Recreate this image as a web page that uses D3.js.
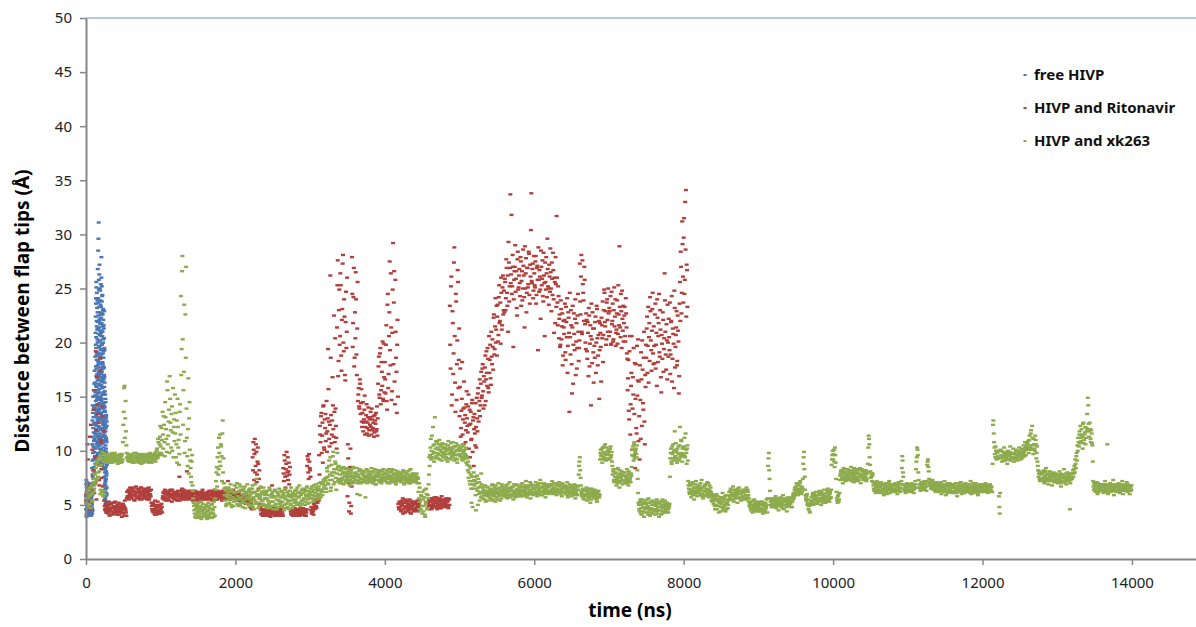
<!DOCTYPE html>
<html>
<head>
<meta charset="utf-8">
<script src="https://cdn.jsdelivr.net/npm/d3@7"></script>
<style>
  body { margin: 0; background: #fff; }
  svg { display: block; font-family: "Noto Sans", "Open Sans", sans-serif; }
</style>
</head>
<body>
<svg width="1196" height="627"></svg>
<script>
// flap tip distance (Å) vs simulation time (ns), three HIV protease runs
const seriesNames = ["free HIVP", "HIVP and Ritonavir", "HIVP and xk263"];
const xTicks = [0, 2000, 4000, 6000, 8000, 10000, 12000, 14000];
const yTicks = [0, 5, 10, 15, 20, 25, 30, 35, 40, 45, 50];

// free HIVP: one value per 1 ns from t = 0
const blueStep = 1;
const blueValues = [
  5.8,4.6,6.9,5.2,7.3,4.1,6.0,5.5,3.9,6.6,5.0,7.1,4.4,5.7,6.3,4.8,5.4,6.8,4.2,5.9,
  5.1,6.4,4.7,5.6,4.0,6.1,5.3,4.5,5.8,4.9,6.2,4.3,5.5,4.8,6.0,5.2,4.6,5.7,4.4,5.0,
  6.5,4.9,5.3,7.0,4.5,5.9,6.2,4.1,5.6,6.8,5.0,4.4,5.8,6.1,4.7,5.4,6.6,4.2,5.1,5.7,
  4.8,5.5,4.3,5.9,5.0,4.6,6.0,4.2,5.3,4.9,5.6,4.0,5.2,4.7,5.8,4.4,5.1,6.3,4.5,5.0,
  4.7,5.3,8.4,4.2,10.6,5.9,12.8,9.1,4.5,14.2,7.6,11.3,6.3,13.5,9.8,15.0,8.2,12.1,10.4,7.0,
  9.2,13.1,6.8,11.7,15.6,8.5,10.9,14.0,7.4,12.6,9.9,16.2,11.1,8.0,13.8,10.3,17.4,12.4,9.5,15.1,
  16.3,9.5,13.9,11.6,18.7,8.8,15.4,20.9,12.5,10.2,22.4,14.6,9.3,17.8,24.1,11.9,19.5,13.2,25.6,16.9,
  12.0,18.4,10.6,21.5,15.9,8.7,19.0,13.6,23.2,11.3,17.1,14.9,20.3,9.6,16.5,22.8,12.8,18.9,15.3,10.8,
  10.7,21.3,14.1,28.5,18.2,12.3,23.7,9.0,16.6,20.1,31.1,13.7,24.9,17.3,11.4,22.0,19.0,15.7,26.3,12.9,
  19.7,14.4,22.2,10.5,17.7,25.0,13.1,20.7,16.1,8.9,21.1,15.0,18.5,12.1,23.9,16.8,11.2,19.4,14.7,22.6,
  18.6,10.1,23.3,16.0,20.6,13.4,27.9,17.5,9.7,21.8,14.8,25.2,19.8,11.0,16.4,22.7,8.6,18.1,15.2,24.4,
  15.8,21.0,12.6,18.0,9.4,23.0,16.7,13.9,20.0,11.5,17.6,14.2,22.1,10.0,19.2,15.4,12.7,21.6,8.3,17.0,
  13.0,20.4,9.9,17.0,22.9,11.7,16.8,14.0,19.3,6.9,12.2,5.4,15.5,8.0,10.9,6.2,13.6,4.9,9.2,5.8,
  11.8,7.3,14.5,5.1,9.0,12.9,6.5,10.2,4.6,8.1,13.3,5.9,7.7,11.0,4.3,9.6,6.0,12.3,5.2,8.8
];
// free HIVP, in-between frames: one value per 1 ns from t = 130.5
const blueStart2 = 130.5;
const blueValues2 = [
  14.2,19.8,11.5,23.6,16.0,9.2,20.5,13.4,25.1,17.6,10.9,22.0,15.1,18.8,12.3,24.6,8.9,19.1,14.7,21.2,
  16.8,11.8,23.9,13.0,20.0,9.8,17.9,26.8,12.6,21.9,15.6,10.4,24.1,18.4,13.8,22.5,29.6,16.2,11.1,20.8,
  14.9,25.8,18.0,12.2,21.4,9.5,16.9,23.3,13.9,19.6,27.2,15.4,11.6,22.8,17.4,10.2,20.2,14.3,24.8,18.7,
  12.9,21.7,16.5,9.9,23.5,15.0,19.3,11.9,25.4,17.1,13.5,20.9,10.6,22.3,16.1,26.0,12.1,18.9,14.6,21.1,
  9.1,17.3,23.8,13.2,19.9,11.3,24.3,15.8,20.6,12.8,18.2,8.8,22.6,16.4,10.7,19.0,14.0,21.5,17.8,12.4,
  20.3,15.2,23.1,10.3,18.6,13.6,16.6,9.7,21.3,14.4,11.0,17.7,8.4,15.9,12.0,19.5,7.6,14.1,10.0,16.3,
  9.4,13.7,6.4,11.4,8.3,15.2,5.6,12.5,7.1,10.5,14.8,6.8,9.7,4.5,12.1,8.5,5.9,11.2,7.4,13.1,
  6.1,9.9,4.8,10.8,7.9,5.3,12.7,6.6,8.7,5.0
];

// HIVP and Ritonavir: one value per 10 ns from t = 0 (null = no sample)
const redStep = 10;
const redValues = [
  5.4,6.2,10.6,4.8,5.9,11.3,5.2,6.5,4.6,7.8,13.8,6.1,9.4,19.2,5.5,14.3,8.7,12.6,6.8,17.4,
  10.8,7.5,13.2,9.1,6.3,4.9,4.5,5.1,4.3,4.8,4.2,5.0,4.6,4.4,5.2,4.1,4.7,4.9,4.3,5.3,
  4.6,4.1,5.0,4.4,4.8,4.3,5.1,4.5,3.9,4.7,4.2,4.9,5.4,4.5,4.0,6.2,5.7,6.4,5.9,6.6,
  6.1,5.6,6.5,5.9,6.3,5.4,6.0,6.7,5.7,6.2,5.8,6.4,5.5,6.1,6.6,5.9,6.3,5.6,6.0,6.5,
  5.8,6.3,5.5,6.1,6.6,5.7,6.0,6.4,4.9,4.4,5.2,4.6,4.1,5.0,4.7,4.3,5.3,4.5,4.8,4.2,
  4.6,5.1,4.3,5.8,6.2,5.6,6.0,5.4,6.3,5.9,5.5,6.1,5.7,6.4,5.8,5.3,6.0,5.6,6.2,5.9,
  5.7,6.1,5.4,6.3,5.9,7.6,5.6,6.0,5.8,6.2,5.5,6.4,5.7,5.9,6.1,8.1,5.6,6.0,5.8,6.3,
  5.9,5.6,6.2,5.4,6.0,5.7,6.3,5.5,6.1,5.8,5.6,6.2,5.9,5.3,6.0,5.7,6.4,5.8,5.5,6.1,
  5.8,6.1,5.5,6.0,5.7,6.3,5.6,5.9,6.2,5.4,6.0,5.8,6.4,5.7,5.5,6.1,5.9,5.6,6.2,5.8,
  5.7,6.0,5.4,6.2,5.8,5.5,6.1,5.9,6.3,5.6,7.2,5.8,6.0,5.5,6.2,5.7,5.9,6.4,5.6,6.0,
  5.8,5.5,6.1,5.7,5.4,6.0,5.6,5.9,5.3,5.8,5.5,6.0,5.2,5.7,5.4,5.9,5.1,5.6,5.0,5.3,
  4.8,5.2,4.6,9.4,10.8,7.3,11.1,8.6,9.9,7.8,10.3,6.5,8.2,5.1,4.5,4.1,4.6,4.3,4.0,4.4,
  4.2,4.6,4.0,4.4,4.7,4.1,4.5,3.9,4.3,6.8,4.6,4.2,4.4,4.0,4.7,4.3,4.1,4.5,4.2,4.6,
  4.3,4.0,4.5,4.2,8.4,7.2,9.1,6.6,8.8,7.7,9.4,8.1,6.9,8.5,4.4,4.1,4.6,4.2,4.5,4.0,
  4.4,4.1,4.6,4.2,4.0,4.5,4.3,4.7,4.1,4.4,4.2,4.6,6.4,4.0,4.5,4.3,8.6,9.2,7.4,9.0,
  8.2,4.5,4.2,4.8,4.4,5.1,4.6,5.5,4.9,5.8,5.2,6.4,9.6,12.3,10.8,13.5,11.4,8.9,14.2,10.1,
  12.1,10.9,14.6,11.8,19.4,12.7,10.4,26.2,13.3,11.5,16.8,12.0,22.5,10.8,13.9,11.2,21.4,27.6,18.3,24.9,
  20.6,25.3,17.4,23.1,28.1,19.2,22.4,16.5,24.7,21.0,5.8,9.3,4.4,7.6,10.2,4.9,27.9,19.6,24.2,17.8,
  22.8,26.5,18.9,21.3,14.6,15.8,13.9,16.2,14.4,12.7,13.5,11.8,12.9,15.1,12.2,13.3,11.6,12.6,14.0,11.9,
  12.4,13.6,11.5,12.9,12.1,13.2,11.7,12.8,13.5,12.0,11.4,16.2,18.7,14.9,19.5,15.6,17.3,20.1,14.6,16.8,
  18.2,15.3,21.6,13.8,24.5,17.1,22.8,19.3,26.4,14.7,20.9,29.2,23.7,16.4,25.8,18.6,13.5,22.1,5.1,4.6,
  4.8,5.3,4.4,5.0,5.6,4.6,5.2,4.3,4.9,5.4,4.7,5.1,4.5,5.5,4.8,4.2,5.2,4.6,5.0,4.4,
  5.3,4.7,5.1,4.5,5.0,4.8,5.4,null,null,null,null,null,null,null,null,null,null,null,5.2,4.6,
  5.5,4.9,5.3,4.7,5.6,5.0,5.4,4.8,5.2,5.7,4.6,5.1,5.5,4.9,5.3,4.7,5.8,5.0,5.4,4.8,
  5.2,4.9,5.6,5.0,5.3,4.7,5.5,23.4,17.6,26.1,15.2,21.8,19.0,28.8,16.3,24.5,14.7,20.2,25.6,18.4,
  13.2,17.6,12.1,14.8,11.5,13.9,16.4,12.6,10.8,14.3,13.0,11.7,15.2,12.4,9.4,13.6,11.1,14.7,12.8,8.6,
  13.4,10.5,12.2,14.9,11.8,15.8,13.7,16.6,14.2,17.3,15.1,18.0,13.9,16.4,17.7,14.6,19.2,16.0,18.5,15.4,
  17.2,19.8,16.1,18.7,20.3,17.5,22.6,19.4,24.1,21.2,18.8,23.5,20.7,25.3,22.0,19.9,24.6,21.6,26.2,23.0,
  22.8,25.6,24.1,26.9,23.4,21.0,27.4,25.2,33.7,26.3,24.5,28.1,19.6,25.8,27.0,24.7,26.6,22.5,28.4,25.1,
  26.8,24.3,27.5,25.7,23.9,28.6,26.2,21.4,25.0,27.8,24.6,26.9,25.4,28.2,23.6,26.1,33.8,25.5,27.3,24.8,
  26.4,25.1,28.0,24.4,27.1,19.3,25.8,26.7,24.9,28.5,25.3,27.6,23.8,26.2,20.6,25.6,27.9,24.2,26.8,25.0,
  27.2,24.7,26.5,22.9,25.9,28.3,24.0,26.0,21.8,25.4,31.7,23.7,25.2,20.4,22.6,19.8,23.1,21.5,17.9,22.0,
  20.8,23.6,18.4,21.9,24.1,19.7,22.3,13.6,20.5,23.0,18.0,21.4,16.2,22.7,19.3,24.0,20.1,17.6,22.5,21.0,
  19.5,27.3,22.6,28.1,20.8,25.4,23.9,27.0,21.7,19.4,22.1,18.5,20.9,23.2,17.8,21.6,14.2,20.3,22.8,19.1,
  21.3,18.6,22.4,20.0,23.1,17.9,20.7,14.8,21.8,19.6,22.3,20.4,18.2,23.0,24.6,21.5,19.8,23.7,22.1,25.0,
  20.6,22.9,24.3,19.9,21.7,23.6,20.3,25.1,22.4,19.7,21.2,23.9,20.8,22.6,28.9,21.4,24.5,19.5,22.2,23.4,
  21.8,23.3,20.1,22.7,19.0,15.6,18.4,12.9,20.6,14.3,17.2,10.1,16.8,19.5,13.4,8.4,18.0,11.6,15.1,20.3,
  16.4,9.2,14.7,19.1,12.3,17.5,13.8,21.0,10.6,15.9,18.6,22.4,19.7,16.3,21.8,24.2,20.2,17.4,23.1,19.0,
  21.5,18.1,23.6,19.8,16.0,22.3,20.6,24.5,18.7,21.2,15.4,19.9,22.8,17.3,20.4,23.9,18.9,21.7,16.6,20.0,
  22.2,19.3,17.1,21.9,24.3,18.5,20.8,15.8,23.2,19.6,21.4,17.9,22.5,20.1,16.9,25.6,28.4,22.7,31.2,26.1,
  29.7,24.5,33.0,34.1,27.2,23.3
];
// HIVP and Ritonavir, in-between frames: one value per 10 ns from t = 5
const redStart2 = 5;
const redValues2 = [
  6.0,5.1,9.2,5.6,4.7,6.8,12.4,5.3,10.1,6.4,8.2,15.6,7.0,11.9,16.8,9.5,13.4,7.3,18.6,11.0,
  8.3,14.1,6.7,11.8,5.4,4.6,5.0,4.3,4.9,4.5,5.3,4.0,4.7,5.1,4.4,4.8,4.2,5.2,4.6,4.5,
  4.3,4.8,4.5,5.2,4.1,4.7,4.4,4.9,4.3,5.1,4.6,4.0,4.7,4.3,5.6,5.8,6.3,5.5,6.1,5.8,
  5.7,6.3,5.9,6.6,5.5,6.2,5.8,6.1,6.5,5.6,6.3,5.7,6.0,6.6,5.5,6.2,5.8,6.4,5.7,6.1,
  6.2,5.6,6.5,5.9,5.5,6.3,5.8,5.2,4.6,5.1,4.3,4.9,5.4,4.5,4.1,4.8,4.4,5.0,4.2,4.9,
  4.4,4.8,5.6,6.1,5.5,6.4,5.7,6.0,5.6,6.2,5.9,5.4,6.3,5.8,6.0,6.4,5.7,6.1,5.5,6.0,
  6.1,5.5,6.2,5.8,6.0,5.4,6.3,5.7,6.5,5.6,6.0,5.8,6.2,5.5,6.0,5.7,6.3,5.5,6.1,5.7,
  5.6,6.1,5.8,6.3,5.5,6.0,5.7,6.2,5.4,6.0,5.9,5.5,6.1,5.8,5.6,6.2,5.5,6.0,5.9,5.6,
  6.0,5.6,6.2,5.8,5.5,6.0,5.9,6.3,5.5,6.1,5.7,6.2,5.6,6.0,5.8,5.5,6.3,5.9,5.7,6.1,
  5.9,5.6,6.3,5.7,6.0,6.2,5.5,5.8,6.0,5.7,5.9,6.3,5.5,6.1,5.8,6.0,5.6,5.8,6.2,5.7,
  5.6,6.0,5.4,5.9,6.1,5.5,5.8,5.3,5.7,6.0,5.4,5.7,5.5,5.1,5.8,5.3,5.6,5.2,5.5,4.9,
  5.1,4.7,5.5,8.2,10.1,9.7,8.0,10.6,7.1,9.0,8.8,7.4,5.6,4.8,4.2,4.6,4.0,4.5,4.3,4.1,
  4.5,4.1,4.7,4.3,4.0,4.6,4.2,4.4,4.8,4.1,4.3,4.7,4.0,4.5,4.2,4.6,4.4,4.0,4.7,4.3,
  4.1,4.6,4.4,4.0,7.9,9.6,7.6,8.3,9.9,8.0,7.3,8.9,7.8,5.8,4.2,4.6,4.0,4.5,4.3,4.7,
  4.2,4.6,4.3,4.5,4.1,4.4,4.0,4.6,4.3,4.2,4.7,4.1,4.5,4.3,4.0,4.6,9.5,8.0,9.7,8.4,
  7.6,4.8,4.3,4.6,4.1,4.7,4.9,5.3,4.7,5.5,6.0,5.4,7.8,11.5,13.2,9.8,12.6,14.1,10.3,12.9,
  13.4,11.6,9.9,13.0,15.7,11.1,12.4,18.6,10.7,12.8,14.2,11.3,13.6,20.4,12.3,10.2,25.3,16.9,23.0,19.8,
  26.4,18.8,22.1,27.3,20.0,24.0,17.0,21.9,19.5,26.0,10.6,7.0,5.2,8.5,4.2,6.7,24.5,21.8,26.9,18.6,
  20.4,24.0,17.0,25.6,15.2,14.1,16.6,13.4,15.7,12.2,14.5,12.6,13.8,11.5,12.7,14.3,12.1,13.1,11.4,12.9,
  13.1,12.2,13.9,11.9,12.6,11.3,13.3,12.5,11.8,14.1,13.0,17.8,15.2,19.0,14.3,18.2,16.0,14.8,19.9,15.4,
  16.6,19.8,14.6,23.5,15.8,20.6,27.5,17.9,21.4,15.5,24.9,18.0,26.6,14.3,21.0,17.3,19.8,15.0,4.8,5.3,
  5.1,4.5,4.9,5.4,4.2,5.2,4.7,5.5,4.4,4.9,5.3,4.6,5.0,4.3,5.4,4.7,4.9,5.3,4.5,5.1,
  4.6,5.2,4.8,5.4,4.4,5.1,4.9,null,null,null,null,null,null,null,null,null,null,null,4.9,5.4,
  5.0,5.6,4.6,5.4,5.1,4.8,5.7,5.2,4.9,5.5,5.3,4.8,5.0,5.6,4.7,5.4,5.1,5.5,4.9,5.3,
  5.5,5.1,4.8,5.4,4.9,5.6,5.0,19.8,25.2,14.2,22.9,17.1,27.4,20.6,13.6,23.8,18.0,26.7,15.8,21.3,
  15.9,11.3,13.7,18.2,12.9,10.6,14.0,13.3,11.9,15.5,12.3,14.1,10.2,13.8,12.5,11.0,14.4,9.9,13.1,12.0,
  11.6,14.4,10.3,13.0,15.3,12.7,14.6,13.2,16.2,14.9,17.6,15.5,16.9,14.2,18.8,16.6,17.2,19.5,15.8,20.6,
  18.4,16.7,21.0,18.0,19.6,22.3,18.9,21.5,20.0,23.4,22.4,20.1,24.2,21.8,23.7,26.0,21.2,25.1,22.6,24.8,
  25.9,23.0,27.7,24.6,26.2,29.3,23.8,26.9,25.5,31.8,25.2,27.0,24.0,26.6,29.0,25.9,23.2,27.7,24.9,26.2,
  25.5,27.9,23.4,26.6,25.0,27.1,24.2,28.9,26.4,22.8,26.9,25.1,28.4,24.4,27.2,30.4,25.7,26.8,24.1,28.0,
  25.3,27.5,23.6,26.9,25.8,28.8,24.7,26.1,22.2,27.0,25.9,24.3,28.3,25.5,27.4,24.9,26.4,29.6,25.2,23.5,
  26.1,28.7,25.0,27.4,24.4,26.7,20.9,25.6,27.9,23.3,26.0,21.6,24.3,22.2,19.6,23.9,20.3,22.7,18.8,21.4,
  22.1,19.1,23.3,20.5,17.2,22.8,20.9,24.6,18.9,21.6,15.3,23.4,19.8,20.8,22.2,17.0,21.8,19.5,24.5,18.3,
  20.2,23.8,26.1,21.0,27.6,24.6,22.0,25.8,20.0,22.7,19.2,21.9,16.9,22.5,19.9,20.6,23.6,18.1,21.3,16.3,
  19.7,21.9,17.2,23.4,20.4,18.8,22.0,19.3,20.9,16.4,21.6,23.8,20.7,24.9,21.9,22.9,20.3,24.0,21.0,22.7,
  23.2,21.0,19.8,24.7,22.0,20.1,23.0,21.5,24.0,20.9,22.7,19.9,25.3,21.6,23.3,20.5,22.9,24.8,21.1,20.1,
  22.5,20.6,24.1,21.4,18.5,16.7,13.7,19.2,11.5,16.0,20.6,13.9,15.2,9.6,18.1,14.8,12.1,19.7,16.5,10.9,
  13.2,17.9,11.1,16.6,20.2,14.4,18.6,12.7,17.0,19.8,21.3,17.2,23.3,20.5,18.3,22.9,19.3,21.1,24.6,18.0,
  19.7,22.6,17.6,20.9,24.0,18.2,21.8,19.1,23.0,16.8,20.7,18.5,22.1,19.4,26.4,21.0,17.5,20.2,23.5,18.7,
  20.5,23.7,18.9,22.0,16.4,21.3,19.9,24.8,17.7,20.7,22.9,18.3,21.1,15.3,23.6,22.0,27.0,24.6,29.1,23.7,
  31.5,25.8,28.6,22.4,26.7
];

// HIVP and xk263: one value per 10 ns from t = 0
const greenStep = 10;
const greenValues = [
  5.2,6.1,4.8,5.6,6.4,5.0,5.9,6.8,5.4,6.2,7.1,6.5,7.8,8.4,7.2,8.9,7.6,9.3,8.1,6.0,
  9.6,6.2,9.1,5.8,9.8,6.0,9.4,9.2,9.7,9.0,9.5,9.3,8.9,9.6,9.2,9.8,9.1,9.4,9.0,9.6,
  9.3,9.0,9.5,9.2,9.6,9.1,9.4,8.9,9.7,9.2,12.4,15.8,11.2,14.6,10.5,9.4,9.1,9.6,9.3,9.0,
  9.4,9.1,9.7,9.2,8.9,9.5,9.3,9.8,9.0,9.4,9.2,9.6,9.1,9.5,8.8,9.3,9.7,9.2,9.4,9.0,
  9.5,9.2,9.0,9.6,9.3,9.1,9.7,9.4,8.9,9.2,9.5,9.3,9.8,9.0,9.6,10.2,9.4,10.8,9.8,11.3,
  10.4,12.1,9.6,11.5,13.2,10.8,14.5,12.0,9.9,15.6,11.4,13.8,16.9,12.6,10.3,14.1,11.7,9.4,12.9,15.2,
  13.5,10.6,8.9,12.2,11.0,9.7,14.3,24.3,19.4,28.0,12.4,17.3,9.8,22.6,27.0,11.2,8.6,16.7,13.0,10.1,
  8.4,7.1,9.6,6.3,5.2,4.5,3.9,4.6,4.1,5.0,4.4,3.8,4.7,4.2,5.3,3.9,4.5,4.8,4.0,4.6,
  4.3,5.0,3.7,4.4,4.9,4.1,3.8,4.6,4.2,5.1,4.5,3.9,4.8,5.6,7.2,8.5,9.4,7.8,11.2,9.0,
  8.6,10.4,7.2,12.8,9.3,6.5,5.4,6.3,5.1,6.0,5.7,6.6,5.2,5.9,6.4,4.8,5.6,6.2,5.3,6.8,
  6.1,5.5,7.0,5.8,4.9,6.3,5.6,6.7,5.2,6.0,5.4,6.5,5.9,4.7,6.2,5.7,6.9,5.1,6.4,5.8,
  5.5,6.2,5.0,6.8,5.7,4.6,6.1,5.3,7.4,5.9,5.2,6.4,4.9,5.8,6.6,5.4,6.0,5.1,6.3,5.6,
  5.0,6.1,5.6,4.7,5.9,5.2,6.4,4.9,5.7,6.0,5.3,4.6,5.8,6.3,5.1,5.5,6.2,4.8,5.9,5.4,
  5.7,4.9,6.2,5.3,5.9,4.5,5.6,6.5,5.1,5.8,4.8,6.0,5.4,6.3,5.0,5.7,4.7,6.1,5.5,5.2,
  6.0,5.3,5.8,6.6,5.1,5.7,6.2,4.9,5.9,6.4,5.4,6.1,5.6,5.0,6.3,5.8,6.7,5.5,6.0,5.2,
  5.9,6.5,5.6,6.2,5.3,6.8,5.8,6.1,6.6,5.5,6.3,5.9,7.0,6.0,5.7,6.4,6.9,6.2,7.3,6.5,
  6.8,7.5,6.2,8.1,7.0,8.6,7.3,9.4,6.6,8.0,7.7,9.9,8.3,7.1,8.8,6.4,7.9,8.5,7.4,8.2,
  7.8,7.2,8.4,7.5,8.0,6.9,7.7,8.3,7.1,7.9,7.4,8.1,7.6,6.8,7.3,8.2,7.7,7.0,8.5,7.5,
  7.6,8.0,7.3,6.0,7.8,7.2,8.3,7.5,7.0,7.9,7.4,8.1,7.7,7.1,5.7,7.6,8.2,7.3,7.9,7.5,
  7.2,7.8,8.4,7.4,7.0,8.0,7.5,7.7,6.9,8.2,7.6,7.3,7.9,7.1,8.1,7.4,7.8,7.2,8.3,7.6,
  7.9,7.3,7.6,8.2,7.0,7.7,7.4,8.0,7.2,7.5,8.3,7.1,7.8,7.4,7.9,6.9,7.6,8.1,7.3,7.7,
  7.4,8.0,7.2,7.7,7.5,8.1,6.9,7.6,7.3,7.9,7.1,7.8,7.5,8.2,7.0,7.6,7.4,7.9,7.2,7.7,
  7.3,7.8,7.1,7.6,7.4,6.2,7.0,5.3,4.6,5.8,4.2,5.5,4.9,6.4,3.9,5.1,6.0,4.7,5.6,7.8,
  8.6,10.3,9.2,11.4,9.7,10.5,9.0,13.1,10.2,9.5,10.8,9.3,10.1,11.0,9.6,10.4,9.1,10.7,9.8,10.2,
  9.9,10.6,9.4,10.2,9.0,10.9,9.7,10.3,9.2,10.0,9.5,10.8,9.8,9.1,10.4,9.6,10.1,8.9,10.5,9.7,
  10.3,9.5,10.0,9.2,10.6,9.8,9.4,10.1,9.7,8.9,9.3,8.2,7.5,8.6,6.9,7.8,5.2,7.2,6.5,8.0,
  6.8,7.6,4.5,7.0,6.3,7.4,6.0,5.4,6.7,7.9,6.1,5.6,6.4,5.9,6.8,5.3,6.2,5.8,6.6,6.0,
  5.7,6.5,6.0,5.4,6.9,6.2,5.8,6.6,5.3,6.3,6.0,5.5,7.0,6.1,5.9,6.4,5.6,6.7,6.2,5.8,
  6.4,5.9,6.8,6.1,5.6,6.5,6.2,7.1,5.8,6.3,6.6,6.0,5.5,6.9,6.2,5.7,6.4,6.8,6.0,6.3,
  6.1,6.7,5.8,6.4,7.0,6.2,5.9,6.6,6.3,7.2,5.7,6.5,6.0,6.8,6.3,5.6,6.9,6.2,6.6,6.1,
  6.5,6.0,7.1,6.3,5.8,6.8,6.4,6.1,7.3,6.6,5.9,6.7,6.2,7.0,6.4,5.7,6.9,6.3,6.6,6.0,
  6.7,6.2,6.9,6.4,7.2,6.0,6.6,6.3,7.0,6.5,5.9,6.8,6.4,7.1,6.1,6.7,6.3,5.8,6.9,6.5,
  6.2,6.8,6.0,6.5,7.1,5.7,6.4,6.9,6.1,6.6,5.8,6.3,6.7,6.0,6.5,5.6,6.2,6.8,5.9,6.4,
  8.6,9.4,7.5,6.2,5.8,6.5,6.0,5.5,6.3,5.9,6.6,5.4,6.1,5.7,6.4,5.2,6.0,6.5,5.8,6.2,
  5.9,6.4,5.6,6.1,5.3,6.0,6.3,5.7,9.2,10.1,9.6,8.9,10.3,9.4,9.8,10.6,9.1,9.7,10.0,9.3,
  9.9,9.2,10.4,9.6,9.0,7.8,8.3,7.1,7.6,8.0,6.8,7.4,8.4,7.2,6.6,7.9,7.5,8.1,6.9,7.7,
  7.3,8.0,7.0,7.6,8.3,7.2,6.8,7.9,7.4,7.1,7.7,9.6,10.4,9.1,10.8,9.8,10.2,9.4,8.2,6.1,
  5.0,4.4,5.5,4.7,4.1,5.2,4.8,3.9,5.4,4.6,5.1,4.3,4.9,5.6,4.5,4.0,5.3,4.7,4.2,5.0,
  4.6,5.2,4.1,4.9,5.5,4.4,4.8,3.9,5.1,4.5,5.3,4.2,4.7,5.0,4.3,5.4,4.9,4.4,5.2,4.6,
  4.7,5.1,9.3,10.2,8.8,9.7,10.6,9.1,11.8,9.5,10.0,8.9,9.8,10.4,9.2,12.2,9.6,10.9,9.0,10.3,
  9.7,11.2,9.4,10.1,8.8,10.5,7.2,6.5,6.0,6.8,5.7,6.4,7.1,6.2,5.5,6.6,6.9,6.1,5.8,6.5,
  6.3,6.8,5.9,6.5,7.3,6.0,5.6,6.7,6.2,6.9,5.8,6.4,6.1,7.0,5.7,6.3,6.6,5.4,6.0,5.6,
  5.1,5.8,4.6,5.4,6.0,4.9,5.5,4.3,5.2,5.7,4.8,5.3,6.1,4.5,5.6,5.0,4.4,5.9,5.2,4.7,
  5.4,6.2,5.8,6.5,5.5,6.0,6.7,5.3,6.1,5.7,6.4,5.9,5.2,6.3,6.6,5.6,6.0,5.4,6.2,5.8,
  6.1,5.5,6.4,5.9,6.6,5.7,6.2,5.3,4.9,5.2,4.5,5.0,4.3,5.4,4.7,5.1,4.4,4.9,5.3,4.6,
  4.8,5.2,4.4,5.0,4.6,5.3,4.2,4.9,5.1,4.5,4.8,5.5,4.3,8.6,9.8,7.4,5.6,5.0,5.4,4.8,
  5.5,4.9,5.3,5.8,4.7,5.1,5.6,4.5,5.4,5.0,5.7,4.8,5.2,5.9,4.6,5.3,5.0,5.5,4.4,5.1,
  5.4,4.9,5.6,5.1,5.3,4.8,5.5,6.1,5.8,6.6,6.2,7.0,6.4,5.9,6.8,6.3,7.2,6.0,6.7,6.5,
  8.8,9.9,7.6,5.9,5.4,6.0,5.2,4.6,4.9,4.3,5.0,5.7,5.3,6.1,5.5,5.8,5.1,6.2,5.6,5.4,
  5.9,5.3,6.3,5.6,5.0,6.0,5.7,5.4,6.4,5.8,5.2,6.1,5.5,6.5,5.9,5.3,6.2,5.7,8.7,9.6,
  9.2,10.1,8.5,9.6,7.4,5.6,5.2,5.9,5.5,7.3,7.9,8.2,7.5,7.0,8.4,7.7,8.0,7.2,7.8,8.3,
  7.6,8.1,7.3,7.9,8.5,7.4,7.7,8.2,7.1,7.8,8.0,7.5,8.3,7.2,7.9,7.6,8.4,7.0,7.7,8.1,
  7.5,8.0,7.3,7.8,8.2,7.4,7.9,10.3,11.1,9.4,8.1,7.6,7.2,7.9,6.8,6.3,6.9,6.1,6.6,7.0,
  6.4,6.9,6.1,6.7,7.1,6.2,6.5,6.8,5.9,6.6,7.0,6.3,6.0,6.7,6.4,7.2,6.1,6.6,6.9,6.3,
  6.5,6.2,6.8,7.0,6.3,6.7,6.0,6.6,7.1,6.4,6.2,6.9,8.4,9.1,7.6,6.5,6.8,6.1,6.6,7.0,
  6.3,6.7,6.9,6.2,6.6,7.0,6.4,6.8,6.1,6.5,7.2,8.3,9.4,10.1,8.0,6.6,6.9,6.3,7.1,6.7,
  6.9,6.4,7.2,6.6,7.0,6.3,8.7,9.2,8.1,6.8,7.1,6.5,6.9,7.3,6.4,6.7,7.0,6.2,6.8,6.6,
  6.7,6.2,6.9,6.4,7.1,6.0,6.6,6.8,6.3,7.2,6.5,5.9,6.7,6.1,6.8,6.4,7.0,6.2,6.6,6.9,
  6.3,6.8,6.1,6.6,7.0,6.4,5.8,6.7,6.2,6.9,6.5,7.1,6.0,6.6,6.3,6.8,6.1,7.0,6.4,6.7,
  6.6,6.2,6.9,6.4,7.2,6.0,6.7,6.3,6.8,6.5,6.1,7.0,6.4,6.6,5.9,6.8,6.3,6.9,6.2,6.6,
  6.4,6.9,6.2,6.7,7.0,6.3,6.6,6.1,6.8,6.5,6.9,6.3,6.7,6.2,12.4,11.6,10.3,9.4,10.0,9.2,
  9.8,9.3,5.8,4.2,10.1,9.6,9.0,9.9,9.4,10.3,9.1,9.7,9.5,8.8,10.0,9.2,9.6,10.4,9.3,9.8,
  9.4,10.2,9.0,9.7,9.3,10.0,9.6,9.1,9.8,10.3,9.5,9.2,10.1,9.7,9.4,10.5,9.9,10.8,9.6,10.4,
  10.2,10.9,9.8,11.4,10.5,11.9,10.1,11.2,9.7,10.6,10.0,11.0,9.3,10.4,8.6,7.6,8.1,7.2,7.8,7.4,
  7.9,7.3,8.2,7.0,7.6,8.4,7.2,7.8,6.9,7.5,8.1,7.4,7.7,6.8,7.3,8.0,7.1,7.6,7.9,7.2,
  7.7,7.0,7.4,8.1,7.3,6.7,7.8,7.2,7.5,8.3,7.1,7.6,6.9,7.4,8.0,7.2,7.7,4.6,7.3,7.9,
  7.5,8.2,7.9,8.6,9.2,8.4,9.8,10.5,11.2,10.4,11.8,12.3,10.9,11.5,10.2,12.6,11.0,11.7,10.6,12.1,
  13.4,14.9,12.5,11.3,12.0,10.8,11.6,10.5,7.2,6.4,6.9,6.2,6.7,7.1,6.0,6.5,6.8,6.3,6.9,6.6,
  6.4,6.9,6.1,6.7,7.2,6.3,6.6,10.6,6.0,6.8,6.5,7.0,6.2,6.7,6.4,7.3,5.9,6.6,6.9,6.3,
  6.7,6.2,7.0,6.5,6.1,6.8,6.4,7.2,6.0,6.6,6.9,6.3,6.7,7.1,6.2,6.5,6.8,6.0,6.6,6.4
];
// HIVP and xk263, in-between frames: one value per 10 ns from t = 5
const greenStart2 = 5;
const greenValues2 = [
  5.6,4.9,6.3,5.1,5.8,6.6,4.7,6.0,5.3,7.4,6.2,7.9,6.9,8.7,7.4,9.1,8.0,8.6,9.5,6.4,
  8.7,9.9,5.9,9.3,6.3,9.0,9.6,8.9,9.4,9.1,9.7,9.0,9.4,9.2,9.7,8.9,9.5,9.3,9.8,9.1,
  9.1,9.6,8.8,9.4,9.0,9.7,9.2,9.5,9.0,10.8,13.6,16.0,13.0,11.8,9.8,9.3,9.7,9.0,9.5,9.2,
  9.2,9.6,8.9,9.4,9.8,9.0,9.5,9.1,9.6,9.3,8.9,9.4,9.7,9.0,9.5,9.2,8.9,9.6,9.1,9.5,
  9.1,9.7,9.4,8.9,9.5,9.8,9.0,9.3,9.6,9.4,9.1,9.7,9.2,9.5,10.0,9.3,11.1,9.6,10.6,12.3,
  9.8,11.0,13.6,10.2,12.4,9.5,13.1,11.1,16.4,10.6,12.7,9.8,14.8,11.9,13.4,10.0,15.8,12.2,10.9,11.6,
  9.4,12.8,14.8,10.3,8.7,13.6,11.5,17.0,26.6,20.3,15.6,23.5,10.9,18.6,13.9,9.5,12.0,7.9,14.5,9.1,
  7.6,9.0,6.8,5.6,4.9,4.2,5.1,3.8,4.8,4.3,5.2,4.0,4.6,4.9,3.7,4.4,5.1,4.2,4.7,3.9,
  4.8,4.1,4.5,5.2,3.9,4.7,4.3,5.0,3.8,4.6,4.2,5.3,4.0,6.4,8.0,6.7,10.3,8.3,9.8,11.5,
  10.6,9.5,11.6,8.0,7.0,5.9,6.6,4.9,5.8,6.5,5.1,6.2,5.5,6.9,5.0,6.3,5.7,4.9,6.1,5.5,
  5.4,6.6,5.1,6.2,5.5,6.9,5.0,6.4,5.7,4.8,6.3,5.2,6.7,5.5,6.0,5.1,6.2,5.6,4.9,6.5,
  6.0,5.3,6.5,4.8,6.2,5.5,6.9,5.1,5.8,6.3,4.7,6.0,5.6,6.7,5.0,6.2,5.4,6.6,4.9,5.9,
  5.6,4.8,6.3,5.4,5.0,6.6,4.7,5.9,5.3,6.2,4.9,5.7,6.4,5.0,5.8,4.6,6.1,5.4,6.5,5.1,
  5.2,6.3,4.8,5.7,6.1,5.0,6.4,4.7,5.5,6.2,5.3,4.6,5.9,5.1,6.6,5.4,6.0,4.9,5.8,6.3,
  5.5,6.4,5.0,6.1,5.7,6.8,5.2,6.0,5.4,5.1,6.5,5.6,6.2,5.3,5.9,6.6,5.1,6.3,5.7,6.1,
  6.2,5.6,6.7,5.9,6.4,5.4,6.1,6.9,5.8,6.5,6.0,6.7,5.6,6.4,7.1,6.2,5.9,7.0,6.6,7.4,
  7.2,6.5,8.4,7.6,6.9,9.1,7.8,6.3,8.7,7.3,9.5,6.9,8.0,9.0,7.5,8.3,9.8,7.2,8.6,7.0,
  7.4,8.2,7.0,7.9,8.5,7.3,8.0,7.6,8.4,7.2,7.8,7.1,8.3,7.9,8.0,7.2,7.5,8.4,7.1,7.9,
  7.3,7.8,8.4,7.0,7.6,8.1,5.9,7.4,8.2,7.1,7.8,7.3,8.0,7.5,7.2,8.3,7.0,7.7,8.1,7.4,
  7.9,7.1,7.6,8.1,7.4,7.2,8.3,6.9,7.8,7.3,8.0,7.7,7.2,8.2,7.5,7.0,8.1,7.6,7.3,7.9,
  7.4,8.0,7.1,7.8,7.5,8.3,7.0,7.7,8.1,7.3,7.6,7.9,7.2,8.2,7.0,7.8,7.4,7.2,8.0,7.5,
  7.8,7.1,7.9,7.3,8.2,7.0,7.7,8.0,7.2,7.5,8.1,7.3,7.0,7.6,8.3,7.2,7.8,7.1,7.9,7.4,
  7.6,7.2,7.9,7.0,7.5,5.6,6.6,4.5,5.9,4.9,6.2,4.4,5.7,4.1,5.3,6.5,4.6,5.9,6.9,9.4,
  9.6,11.1,10.0,9.4,12.2,9.9,10.6,9.3,10.9,9.8,10.3,9.7,10.6,9.2,10.1,9.9,10.6,9.4,10.3,9.6,
  10.3,9.2,10.0,9.7,10.5,9.3,10.1,9.8,10.7,9.4,10.2,9.6,10.4,9.9,9.3,10.7,9.2,10.0,9.6,10.2,
  9.7,10.2,9.4,10.4,9.1,10.0,9.6,9.3,10.3,9.5,8.7,9.0,8.0,7.2,8.4,6.5,7.6,4.8,6.9,7.3,
  7.2,5.9,6.5,7.7,5.0,6.6,7.1,6.2,5.7,6.9,5.8,6.6,6.2,5.5,6.3,6.0,6.7,5.4,6.3,5.9,
  6.2,5.6,6.4,6.8,5.9,5.5,6.4,6.1,6.8,5.7,6.5,6.2,5.8,6.6,5.4,6.3,6.9,5.9,6.1,6.5,
  6.0,6.6,5.7,6.3,6.9,5.9,6.6,5.7,6.5,6.0,5.8,6.7,6.3,6.1,5.8,6.9,6.0,6.5,6.3,5.8,
  6.6,6.0,6.9,6.2,5.8,6.7,6.4,6.0,6.8,6.1,6.6,5.9,6.7,6.2,7.1,6.4,6.0,6.8,5.9,6.5,
  6.2,6.8,6.1,6.6,6.9,6.0,6.5,7.0,6.2,5.9,6.6,6.3,6.9,6.0,6.7,6.5,6.1,6.7,6.2,6.8,
  6.3,6.9,6.1,6.8,6.5,6.2,7.0,6.4,6.1,6.8,6.5,6.2,6.9,6.3,6.8,6.0,6.5,7.0,6.2,6.7,
  6.6,6.1,6.7,6.3,5.9,6.6,6.2,6.0,6.8,6.3,6.6,6.1,6.4,6.9,5.9,6.6,6.0,6.4,6.7,7.8,
  9.0,8.2,6.8,6.0,6.3,5.6,6.4,6.0,5.8,6.4,5.9,6.2,5.6,6.5,5.8,6.1,5.5,6.3,6.0,5.7,
  6.2,5.8,6.3,5.5,6.2,5.7,6.0,5.9,9.8,9.5,10.2,9.2,9.9,10.4,9.3,9.6,10.3,9.2,9.7,10.1,
  9.6,10.2,9.4,9.9,8.6,8.1,7.3,7.9,7.2,8.3,7.5,7.0,7.8,7.6,8.2,7.1,7.8,7.3,7.7,8.0,
  7.7,7.1,7.6,7.4,7.0,7.8,8.1,7.2,7.6,7.9,8.5,10.1,9.5,10.6,9.3,10.0,9.7,10.5,7.4,5.2,
  4.6,5.3,4.2,5.0,5.5,4.4,5.1,4.7,4.3,5.2,4.8,5.5,4.1,4.7,5.2,4.6,4.3,5.0,5.4,4.5,
  5.0,4.4,5.3,4.6,4.2,5.1,4.5,5.3,4.8,4.1,4.9,5.5,4.4,4.8,5.2,4.6,4.3,5.1,4.8,4.3,
  4.9,7.6,9.8,9.0,10.4,9.3,9.9,10.1,9.4,10.7,9.3,10.2,9.1,9.7,10.5,9.4,11.0,9.8,10.2,9.5,
  10.4,9.5,11.6,9.8,10.2,9.1,6.8,6.2,7.0,6.4,6.1,6.9,5.9,6.6,6.3,6.0,7.2,6.4,6.7,6.2,
  6.6,6.1,7.0,6.4,5.8,6.6,6.3,5.9,6.8,6.2,6.5,7.1,5.9,6.4,6.8,6.0,6.2,5.8,5.3,5.9,
  5.5,4.9,5.6,5.0,4.6,5.8,5.3,4.9,5.5,4.4,5.1,5.7,4.7,5.4,4.9,5.8,5.2,4.6,5.5,5.0,
  5.9,5.6,6.3,5.5,6.1,5.8,5.5,6.4,5.9,6.2,5.6,6.1,6.5,5.7,6.0,6.3,5.5,6.1,5.7,6.4,
  5.8,6.3,5.6,6.2,5.5,6.4,5.9,5.6,5.1,4.7,5.3,4.6,5.0,4.8,5.5,4.5,5.2,4.7,4.4,5.0,
  5.1,4.6,5.3,4.7,5.0,4.4,5.1,4.6,4.3,5.2,4.7,5.0,5.6,9.3,8.2,6.3,5.3,4.8,5.1,5.6,
  5.1,5.6,4.8,5.4,5.2,4.9,5.3,5.6,4.9,5.2,5.0,5.5,4.7,5.3,5.6,5.0,5.4,4.8,5.3,5.7,
  5.0,5.5,5.2,4.8,5.7,5.3,5.9,5.6,6.4,6.0,6.7,6.3,6.9,6.5,6.1,7.0,6.4,6.6,6.2,7.4,
  9.4,8.3,6.4,5.6,5.8,5.0,5.5,4.9,4.4,5.1,5.4,5.2,5.9,5.0,6.0,5.5,5.7,5.3,5.9,5.1,
  5.6,6.1,5.4,5.9,6.2,5.5,5.2,6.0,5.6,5.3,5.8,5.4,6.3,5.7,5.5,6.0,5.6,6.4,9.2,10.0,
  9.7,9.0,10.3,8.9,6.2,5.4,5.8,5.3,6.1,7.7,8.1,7.4,7.9,8.2,7.3,8.0,7.5,8.3,7.6,7.4,
  7.9,7.4,8.2,7.7,7.2,8.0,7.5,7.9,8.4,7.3,7.6,8.1,7.4,7.9,8.2,7.3,7.8,7.6,8.3,7.5,
  7.8,7.3,8.1,7.6,7.2,8.0,8.8,11.4,10.6,8.7,7.5,7.9,7.7,7.1,6.5,7.0,6.4,6.7,7.2,6.3,
  6.7,6.2,6.6,7.0,6.3,6.8,6.1,6.5,6.9,6.4,6.2,6.8,6.6,6.1,7.0,6.5,6.8,6.3,6.5,6.8,
  6.8,6.4,6.5,6.2,6.9,6.4,6.7,6.3,6.5,6.9,6.6,7.2,9.5,8.0,6.9,6.3,6.5,6.7,6.9,6.3,
  6.6,6.4,6.2,6.8,6.9,6.3,6.7,6.4,6.8,6.9,6.6,9.0,10.3,9.6,7.3,6.9,6.5,6.8,6.4,6.9,
  6.6,7.1,6.5,6.9,6.7,7.2,9.0,8.5,7.4,7.0,6.7,7.2,6.6,6.8,7.1,6.4,6.8,6.5,7.1,6.9,
  6.4,6.8,6.6,7.0,6.3,6.7,6.5,6.2,6.9,6.6,6.2,6.8,6.4,7.0,6.3,6.7,6.5,6.9,6.1,6.6,
  6.6,6.2,6.9,6.3,6.7,6.1,6.6,6.4,7.0,6.3,6.8,6.4,6.7,6.1,6.9,6.4,6.6,6.2,6.8,6.3,
  6.3,6.9,6.5,6.1,6.7,6.6,6.2,7.0,6.4,6.6,6.8,6.3,6.7,6.1,6.6,6.4,6.9,6.5,6.7,6.2,
  6.7,6.3,6.6,6.9,6.4,6.8,6.2,6.7,6.3,6.8,6.4,6.6,6.2,8.8,12.8,10.8,9.7,10.4,9.3,9.9,
  9.5,10.0,4.8,6.1,9.3,10.0,9.4,9.6,9.1,9.8,9.6,9.3,9.9,9.2,9.7,9.5,9.9,9.1,9.7,9.4,
  9.7,9.3,9.8,9.2,10.1,9.5,9.3,10.0,9.5,9.7,9.9,9.6,9.3,10.2,9.8,10.0,9.5,10.3,10.1,10.7,
  10.6,10.1,11.0,10.3,11.6,10.2,12.3,10.5,11.1,10.2,11.4,10.6,9.8,9.0,8.2,7.9,7.4,7.9,7.3,8.0,
  7.5,8.0,7.1,7.7,8.1,7.4,7.9,7.3,7.8,7.2,7.6,7.9,7.2,7.8,7.6,7.3,7.8,7.4,7.1,7.7,
  7.4,7.8,7.1,7.6,7.9,7.0,7.5,7.8,7.2,7.6,7.4,7.9,7.2,7.7,7.5,7.9,7.3,7.0,7.6,7.4,
  7.9,7.6,8.3,8.0,8.8,9.5,9.1,10.0,10.8,11.5,10.7,11.2,12.0,11.3,12.5,10.7,11.5,12.2,11.2,11.8,
  12.0,14.2,11.8,12.6,11.1,11.9,10.7,9.0,6.7,7.0,6.5,6.9,6.3,6.6,7.0,6.2,6.7,6.4,6.6,6.9,
  6.7,6.3,6.8,6.4,6.6,6.9,6.2,6.8,6.5,6.3,6.9,6.6,6.8,6.3,6.9,6.6,6.4,6.8,6.2,6.7,
  6.4,6.8,6.6,6.3,6.9,6.5,6.7,6.3,6.8,6.4,6.5,6.8,6.4,6.6,6.9,6.3,6.6,6.7,6.3,6.8
];

const seriesColors = ["#4a76b4", "#b13f3b", "#8dab4c"];

const svg = d3.select("svg");
const margin = {left: 86, top: 18, bottom: 559};

const x = d3.scaleLinear().domain([0, 15000]).range([margin.left, margin.left + 15000 * 0.07471]);
const y = d3.scaleLinear().domain([0, 50]).range([margin.bottom, margin.top]);

// top border of the plot area
svg.append("line")
  .attr("x1", x(0)).attr("x2", x(15000))
  .attr("y1", y(50)).attr("y2", y(50))
  .attr("stroke", "#6d93c6").attr("stroke-width", 1.2);

// series as points
const toPoints = (vals, step, start = 0) => vals
  .map((v, i) => ({t: start + i * step, v: v}))
  .filter(d => d.v !== null);

const series = [
  toPoints(blueValues, blueStep).concat(toPoints(blueValues2, blueStep, blueStart2)),
  toPoints(redValues, redStep).concat(toPoints(redValues2, redStep, redStart2)),
  toPoints(greenValues, greenStep).concat(toPoints(greenValues2, greenStep, greenStart2))
];

series.forEach((pts, k) => {
  svg.append("g").selectAll("rect").data(pts).enter().append("rect")
    .attr("x", d => x(d.t) - 2)
    .attr("y", d => y(d.v) - 1.2)
    .attr("width", 4)
    .attr("height", 2.4)
    .attr("fill", seriesColors[k]);
});

// y axis
const yAxis = svg.append("g")
  .attr("transform", `translate(${margin.left},0)`)
  .call(d3.axisLeft(y).tickValues(yTicks).tickSize(6).tickPadding(8).tickSizeOuter(0));
yAxis.select(".domain").attr("stroke", "#868686").attr("stroke-width", 2);
yAxis.selectAll(".tick line").attr("stroke", "#868686").attr("stroke-width", 1.5);
yAxis.selectAll("text").attr("font-size", "15px").attr("fill", "#222")
  .attr("font-family", "'Noto Sans', sans-serif");

// x axis
const xAxis = svg.append("g")
  .attr("transform", `translate(0,${margin.bottom})`)
  .call(d3.axisBottom(x).tickValues(xTicks).tickFormat(d3.format("d"))
    .tickSize(6).tickPadding(12).tickSizeOuter(0));
xAxis.select(".domain").attr("stroke", "#868686").attr("stroke-width", 2);
xAxis.selectAll(".tick line").attr("stroke", "#868686").attr("stroke-width", 1.5);
xAxis.selectAll("text").attr("font-size", "15px").attr("fill", "#222")
  .attr("font-family", "'Noto Sans', sans-serif");

// axis titles
svg.append("text")
  .attr("x", 630).attr("y", 617)
  .attr("text-anchor", "middle")
  .attr("font-weight", "bold").attr("font-size", "19px")
  .text("time (ns)");

svg.append("text")
  .attr("transform", "translate(29,311) rotate(-90)")
  .attr("text-anchor", "middle")
  .attr("font-weight", "bold").attr("font-size", "19px")
  .text("Distance between flap tips (Å)");

// legend
const legend = svg.append("g").attr("transform", "translate(1025,75)");
seriesNames.forEach((name, k) => {
  const row = legend.append("g").attr("transform", `translate(0,${k * 33})`);
  row.append("rect").attr("x", -1.5).attr("y", -1).attr("width", 3).attr("height", 2)
    .attr("fill", seriesColors[k]);
  row.append("text").attr("x", 9).attr("y", 5)
    .attr("font-size", "15px").attr("font-weight", "bold").attr("fill", "#111")
    .text(name);
});
</script>
</body>
</html>
